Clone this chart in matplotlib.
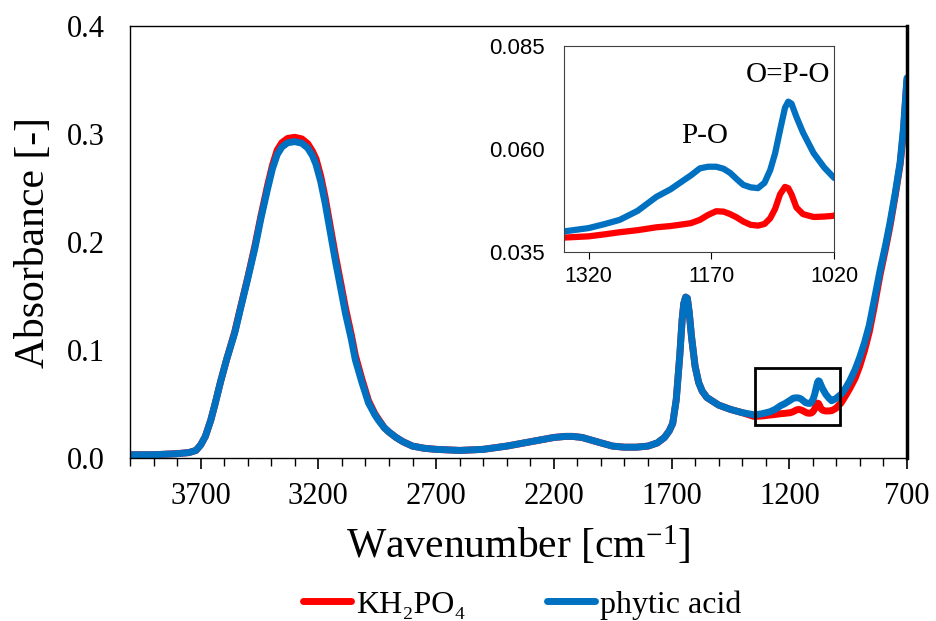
import matplotlib.pyplot as plt
import matplotlib.patches as mpatches
from matplotlib.ticker import MultipleLocator, FixedLocator

plt.rcParams['font.family'] = ['Liberation Serif', 'DejaVu Serif']
plt.rcParams['mathtext.fontset'] = 'custom'
plt.rcParams['mathtext.rm'] = 'Liberation Serif'

# Wavenumber grid [cm-1] and absorbance
wavenumber = [
    4000, 3900, 3800, 3750, 3720, 3700, 3680, 3657, 3640, 3615, 3590, 3555,
    3530, 3500, 3470, 3444, 3415, 3395, 3375, 3355, 3330, 3300, 3270, 3245,
    3225, 3210, 3190, 3171, 3150, 3128, 3105, 3085, 3060, 3043, 3015, 2987,
    2960, 2945, 2920, 2900, 2870, 2840, 2800, 2750, 2700, 2600, 2500, 2400,
    2300, 2200, 2150, 2120, 2080, 2000, 1950, 1900, 1850, 1800, 1760, 1730,
    1710, 1695, 1680, 1665, 1655, 1648, 1640, 1633, 1625, 1615, 1600, 1585,
    1570, 1550, 1500, 1450, 1400, 1350, 1320, 1300, 1282, 1260, 1237, 1220,
    1209, 1195, 1184, 1174, 1164, 1155, 1147, 1139, 1131, 1122, 1113, 1105,
    1098, 1092, 1086, 1080, 1076, 1072, 1066, 1058, 1045, 1032, 1020, 1002,
    980, 960, 944, 920, 901, 880, 860, 840, 815, 790, 772, 750, 729, 715, 700,
]

phytic_acid = [
    0.003, 0.003, 0.004, 0.005, 0.007, 0.012, 0.020, 0.035, 0.049, 0.071, 0.091, 0.116,
    0.139, 0.166, 0.194, 0.222, 0.250, 0.268, 0.281, 0.288, 0.292, 0.293, 0.2915, 0.287,
    0.280, 0.272, 0.256, 0.236, 0.210, 0.183, 0.157, 0.134, 0.110, 0.091, 0.070, 0.051,
    0.040, 0.035, 0.028, 0.024, 0.019, 0.015, 0.011, 0.009, 0.008, 0.007, 0.008, 0.011,
    0.015, 0.019, 0.020, 0.020, 0.019, 0.014, 0.011, 0.010, 0.010, 0.011, 0.014, 0.019,
    0.025, 0.032, 0.054, 0.095, 0.128, 0.143, 0.149, 0.148, 0.135, 0.112, 0.085, 0.070,
    0.062, 0.056, 0.049, 0.045, 0.042, 0.0400, 0.0408, 0.0418, 0.0428, 0.0450, 0.0484, 0.0502,
    0.0517, 0.0536, 0.0553, 0.0557, 0.0557, 0.0552, 0.0542, 0.0527, 0.0513, 0.0507, 0.0505, 0.0518,
    0.0549, 0.0590, 0.0646, 0.0700, 0.0715, 0.0710, 0.0678, 0.0640, 0.0590, 0.0555, 0.0530, 0.055,
    0.059, 0.065, 0.071, 0.082, 0.093, 0.107, 0.123, 0.145, 0.173, 0.198, 0.218, 0.245, 0.274, 0.305, 0.352,
]

kh2po4 = [
    0.003, 0.003, 0.004, 0.005, 0.007, 0.012, 0.020, 0.035, 0.049, 0.071, 0.091, 0.117,
    0.140, 0.167, 0.196, 0.224, 0.253, 0.271, 0.285, 0.292, 0.296, 0.297, 0.2955, 0.291,
    0.284, 0.277, 0.261, 0.241, 0.215, 0.188, 0.162, 0.139, 0.114, 0.095, 0.073, 0.053,
    0.041, 0.036, 0.028, 0.024, 0.019, 0.015, 0.011, 0.009, 0.008, 0.007, 0.008, 0.011,
    0.015, 0.019, 0.020, 0.020, 0.019, 0.014, 0.011, 0.010, 0.010, 0.011, 0.014, 0.019,
    0.025, 0.032, 0.054, 0.095, 0.128, 0.143, 0.149, 0.148, 0.135, 0.112, 0.085, 0.070,
    0.062, 0.056, 0.049, 0.045, 0.042, 0.0385, 0.0388, 0.0393, 0.0398, 0.0403, 0.0410, 0.0413,
    0.0416, 0.0420, 0.0428, 0.0440, 0.0449, 0.0448, 0.0442, 0.0434, 0.0424, 0.0416, 0.0414, 0.0418,
    0.0432, 0.0455, 0.0490, 0.0508, 0.0505, 0.0490, 0.0458, 0.0442, 0.0435, 0.0436, 0.0438, 0.046,
    0.051, 0.058, 0.064, 0.074, 0.085, 0.100, 0.117, 0.139, 0.169, 0.195, 0.215, 0.243, 0.272, 0.302, 0.350,
]

RED = '#FF0000'
BLUE = '#0070C0'

fig = plt.figure(figsize=(9.36, 6.21), dpi=100)
ax = fig.add_axes([0.1389, 0.2625, 0.8301, 0.6955])

ax.plot(wavenumber, kh2po4, color=RED, lw=5, solid_capstyle='round',
        solid_joinstyle='round', label='KH₂PO₄')
ax.plot(wavenumber, phytic_acid, color=BLUE, lw=5, solid_capstyle='round',
        solid_joinstyle='round', label='phytic acid')

ax.set_xlim(4000, 700)
ax.set_ylim(0, 0.4)
ax.xaxis.set_major_locator(FixedLocator([3700, 3200, 2700, 2200, 1700, 1200, 700]))
ax.xaxis.set_minor_locator(MultipleLocator(100))
ax.set_yticks([0, 0.1, 0.2, 0.3, 0.4])
ax.set_yticklabels(['0.0', '0.1', '0.2', '0.3', '0.4'])
ax.tick_params(axis='x', which='major', direction='out', length=8, width=1.2,
               labelsize=22, pad=9)
ax.tick_params(axis='x', which='minor', direction='out', length=6, width=1.0)
ax.tick_params(axis='y', length=0, labelsize=22, pad=18)
for side in ['left', 'bottom', 'top']:
    ax.spines[side].set_linewidth(1.0)
ax.spines['right'].set_linewidth(2.5)

ax.set_xlabel('Wavenumber [cm$\\mathregular{^{-1}}$]', fontsize=30, labelpad=10)
ax.set_ylabel('Absorbance [-]', fontsize=30, labelpad=10)

# box marking the zoomed region
ax.add_patch(mpatches.Rectangle((1345, 0.031), 985 - 1345, 0.083 - 0.031,
                                fill=False, edgecolor='black', lw=2, zorder=5))

leg = fig.legend(loc='center', bbox_to_anchor=(0.558, 0.026), ncol=2,
                 frameon=False, fontsize=23, handlelength=1.5, columnspacing=2.55,
                 handletextpad=0.15)
for line in leg.get_lines():
    line.set_linewidth(5)

# inset
axi = fig.add_axes([0.6026, 0.5942, 0.2885, 0.3317])
axi.plot(wavenumber, kh2po4, color=RED, lw=4.5, solid_capstyle='round',
         solid_joinstyle='round')
axi.plot(wavenumber, phytic_acid, color=BLUE, lw=4.5, solid_capstyle='round',
         solid_joinstyle='round')
axi.set_xlim(1350, 1020)
axi.set_ylim(0.035, 0.085)
axi.set_xticks([1320, 1170, 1020])
axi.set_yticks([0.035, 0.060, 0.085])
axi.set_yticklabels(['0.035', '0.060', '0.085'])
axi.tick_params(axis='x', direction='out', length=5, labelsize=15.5, pad=5)
axi.tick_params(axis='y', length=0, labelsize=16, pad=14)
for lab in axi.get_xticklabels() + axi.get_yticklabels():
    lab.set_family(['Liberation Sans', 'DejaVu Sans'])
for side in axi.spines:
    axi.spines[side].set_linewidth(0.8)
    axi.spines[side].set_color('#404040')

axi.text(1178, 0.0632, 'P-O', fontsize=21, ha='center', va='center')
axi.text(1076, 0.078, 'O=P-O', fontsize=21, ha='center', va='center')

fig.savefig('out.png', dpi=100)
